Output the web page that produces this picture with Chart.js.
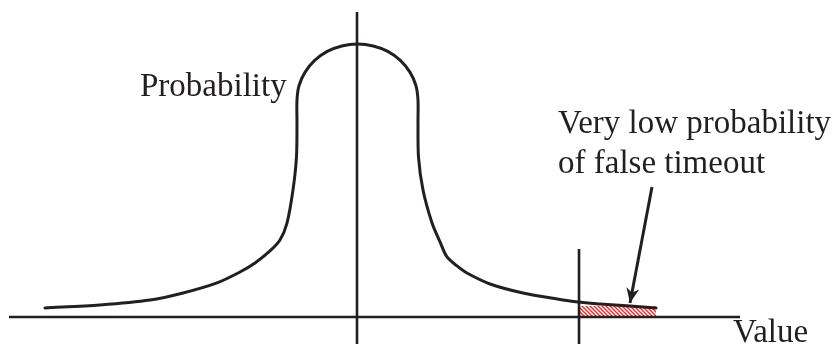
<!DOCTYPE html>
<html>
<head>
<meta charset="utf-8">
<script src="https://cdn.jsdelivr.net/npm/chart.js@4/dist/chart.umd.min.js"></script>
<style>
html,body{margin:0;padding:0;background:#fff;}
#wrap{width:837px;height:344px;position:relative;}
</style>
</head>
<body>
<div id="wrap"><canvas id="c"></canvas></div>
<script>
// Probability density curve (x = value, y = probability)
const curveX = [-4.216,-3.473,-2.797,-2.351,-1.892,-1.581,-1.378,-1.176,-1.041,-0.946,-0.865,-0.818,-0.811,
  -0.811,-0.783,-0.701,-0.572,-0.402,-0.205,0.007,0.219,0.416,0.585,0.715,0.796,0.824,
  0.824,0.831,0.892,1.014,1.122,1.216,1.351,1.486,1.797,2.243,2.703,2.986,3.284,3.689,4.041];
const curveY = [0.033,0.044,0.062,0.088,0.125,0.165,0.198,0.242,0.282,0.344,0.465,0.586,0.711,
  0.795,0.848,0.897,0.940,0.973,0.993,1.000,0.993,0.973,0.940,0.897,0.848,0.795,
  0.711,0.586,0.465,0.344,0.275,0.220,0.187,0.161,0.121,0.088,0.066,0.055,0.048,0.040,0.033];
// Timeout threshold and shaded false-timeout region
const thresholdX = 3.0;
const thresholdTopY = 0.249;
const falseTimeoutX = [3.0, 4.041];
const falseTimeoutY = [0.040, 0.040];
// Axes extents
const axisXRange = [-4.703, 5.176];
const axisYRange = [-0.099, 1.117];
const scaleX = [-4.824, 6.486];
const scaleY = [-0.0989, 1.1612];
// Labels (text, x, y in data units; anchor = left baseline)
const labelTexts = ["Probability", "Very low probability", "of false timeout", "Value"];
const labelX = [-2.932, 2.716, 2.716, 5.081];
const labelY = [0.8095, 0.674, 0.527, -0.0916];
// Arrow from label to shaded region
const arrowX = [3.986, 3.689];
const arrowY = [0.476, 0.0513];

const INK = '#231f20';

function hatchPattern(){
  const s = 4;
  const p = document.createElement('canvas');
  p.width = s; p.height = s;
  const g = p.getContext('2d');
  g.fillStyle = '#ffffff'; g.fillRect(0,0,s,s);
  g.strokeStyle = '#e8322f'; g.lineWidth = 1.5;
  g.beginPath();
  g.moveTo(-1,-1); g.lineTo(s+1,s+1);
  g.moveTo(-1,s-1); g.lineTo(1,s+1);
  g.moveTo(s-1,-1); g.lineTo(s+1,1);
  g.stroke();
  return g.createPattern(p,'repeat');
}

const curve = curveX.map((x,i)=>({x, y: curveY[i]}));
const hatch = falseTimeoutX.map((x,i)=>({x, y: falseTimeoutY[i]}));

const annot = {
  id: 'annot',
  afterDatasetsDraw(chart){
    const {ctx, scales:{x, y}} = chart;
    ctx.save();
    ctx.fillStyle = INK;
    ctx.font = '33px "Liberation Serif", "Times New Roman", serif';
    ctx.textBaseline = 'alphabetic';
    ctx.textAlign = 'left';
    labelTexts.forEach((t,i)=>{
      ctx.fillText(t, x.getPixelForValue(labelX[i]), y.getPixelForValue(labelY[i]));
    });
    // arrowhead
    const x1 = x.getPixelForValue(arrowX[0]), y1 = y.getPixelForValue(arrowY[0]);
    const x2 = x.getPixelForValue(arrowX[1]), y2 = y.getPixelForValue(arrowY[1]);
    const ang = Math.atan2(y2-y1, x2-x1);
    const L = 15, W = 6.5;
    ctx.beginPath();
    ctx.moveTo(x2, y2);
    ctx.lineTo(x2 - L*Math.cos(ang) + W*Math.sin(ang), y2 - L*Math.sin(ang) - W*Math.cos(ang));
    ctx.lineTo(x2 - L*0.7*Math.cos(ang), y2 - L*0.7*Math.sin(ang));
    ctx.lineTo(x2 - L*Math.cos(ang) - W*Math.sin(ang), y2 - L*Math.sin(ang) + W*Math.cos(ang));
    ctx.closePath();
    ctx.fill();
    ctx.restore();
  }
};

new Chart(document.getElementById('c'), {
  type: 'line',
  data: {
    datasets: [
      { label:'false timeout', data: hatch, fill: 'origin', backgroundColor: hatchPattern(),
        borderWidth: 0, pointRadius: 0, order: 10, tension: 0 },
      { label:'probability', data: curve, borderColor: INK, borderWidth: 3, pointRadius: 0,
        tension: 0.3, fill: false, order: 1, borderCapStyle: 'round', borderJoinStyle: 'round' },
      { label:'x axis', data: axisXRange.map(v=>({x:v, y:0})), borderColor: INK, borderWidth: 2.6,
        pointRadius: 0, fill: false, order: 2 },
      { label:'y axis', data: axisYRange.map(v=>({x:0, y:v})), borderColor: INK, borderWidth: 2.6,
        pointRadius: 0, fill: false, order: 2 },
      { label:'threshold', data: [{x:thresholdX, y:thresholdTopY},{x:thresholdX, y:scaleY[0]}], borderColor: INK,
        borderWidth: 2.6, pointRadius: 0, fill: false, order: 0 },
      { label:'arrow', data: arrowX.map((v,i)=>({x:v, y:arrowY[i]})), borderColor: INK, borderWidth: 3,
        pointRadius: 0, fill: false, order: 0 }
    ]
  },
  options: {
    responsive: true,
    maintainAspectRatio: false,
    animation: false,
    layout: { padding: 0 },
    plugins: { legend: { display: false }, tooltip: { enabled: false } },
    scales: {
      x: { type: 'linear', display: false, min: scaleX[0], max: scaleX[1] },
      y: { type: 'linear', display: false, min: scaleY[0], max: scaleY[1] }
    }
  },
  plugins: [annot]
});
</script>
</body>
</html>
